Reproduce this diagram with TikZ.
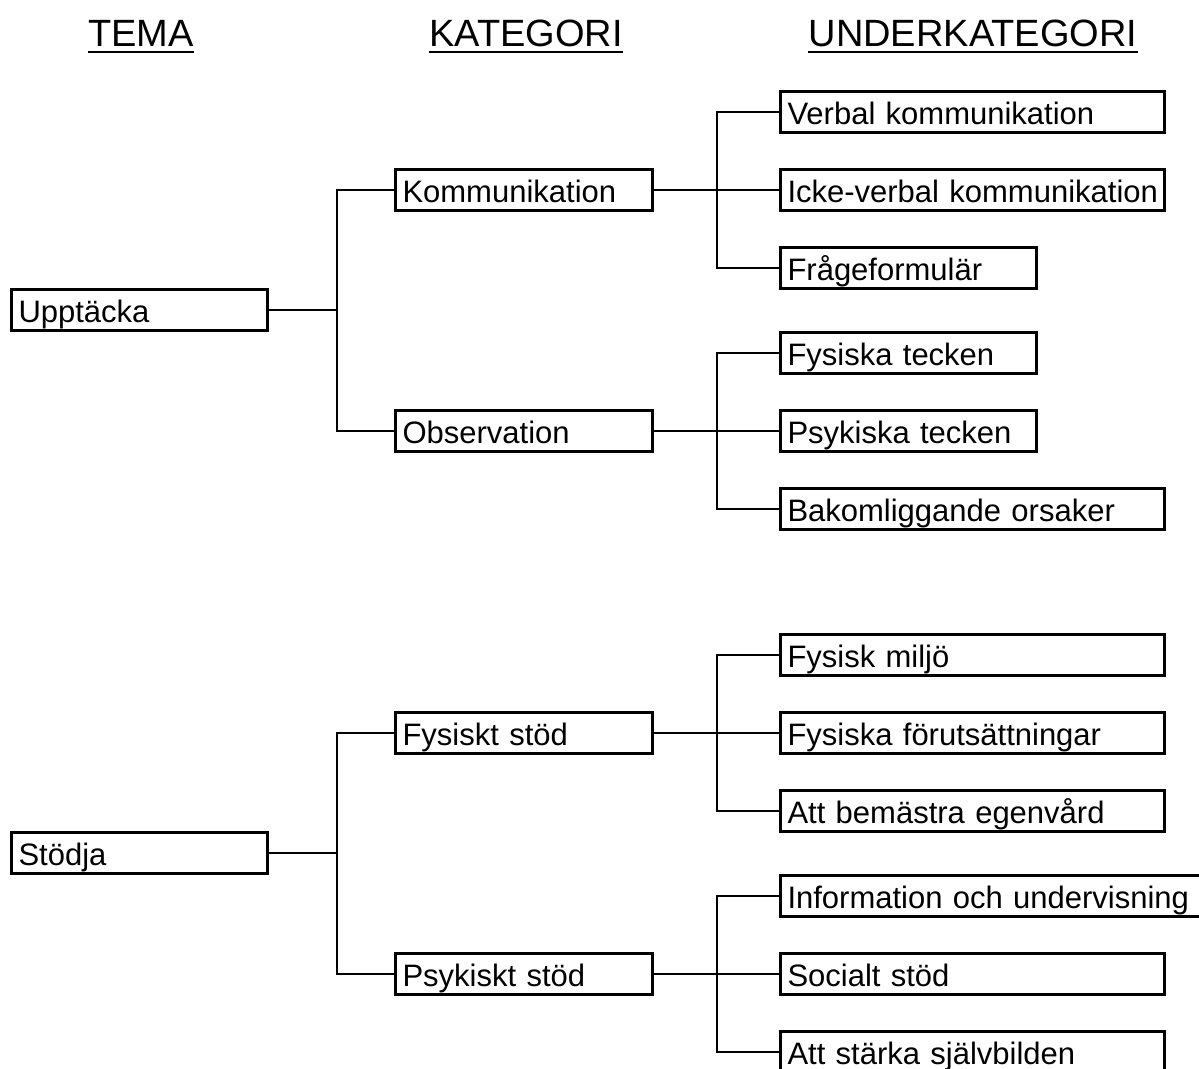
\documentclass[tikz,border=0pt]{standalone}
\usepackage{fontspec}
\setmainfont{Liberation Sans}
\usetikzlibrary{positioning}

\tikzset{
  box/.style={draw, line width=1.5pt, anchor=west, inner xsep=0pt, inner ysep=0pt,
    minimum height=20.5pt, text width=#1, align=left, text height=13pt, text depth=0.4pt,
    font=\fontsize{15.5}{18}\selectfont, execute at begin node={\hspace*{3.5pt}}},
  conn/.style={line width=0.8pt},
  head/.style={anchor=base, inner sep=0pt, font=\fontsize{19}{22}\selectfont},
  uline/.style={line width=0.75pt},
}

\begin{document}
\begin{tikzpicture}[x=0.5pt, y=-0.5pt]
    \useasboundingbox (0,0) rectangle (1199,1069);
    \clip (0,0) rectangle (1199,1069);

    % rubriker
    \node[head] (tema) at (141,47) {TEMA};
    \node[head] (kat) at (526,47) {KATEGORI};
    \node[head] (under) at (973,47) {UNDERKATEGORI};
    \draw[uline] ([yshift=-2.5pt]tema.base west) -- ([yshift=-2.5pt]tema.base east);
    \draw[uline] ([yshift=-2.5pt]kat.base west) -- ([yshift=-2.5pt]kat.base east);
    \draw[uline] ([yshift=-2.5pt]under.base west) -- ([yshift=-2.5pt]under.base east);

    % tema
    \node[box=128pt] (upp) at (10,310) {Upptäcka};
    \node[box=128pt] (sto) at (10,853) {Stödja};

    % kategori
    \node[box=128.5pt] (kom) at (394,190) {Kommunikation};
    \node[box=128.5pt] (obs) at (394,431) {Observation};
    \node[box=128.5pt] (fys) at (394,733) {Fysiskt stöd};
    \node[box=128.5pt] (psy) at (394,974) {Psykiskt stöd};

    % underkategori
    \node[box=192pt] (verb) at (779,112) {Verbal kommunikation};
    \node[box=192pt] (icke) at (779,190) {Icke-verbal kommunikation};
    \node[box=128pt] (frag) at (779,268) {Frågeformulär};
    \node[box=128pt] (ftec) at (779,353) {Fysiska tecken};
    \node[box=128pt] (ptec) at (779,431) {Psykiska tecken};
    \node[box=192pt] (bako) at (779,509) {Bakomliggande orsaker};
    \node[box=192pt] (milj) at (779,655) {Fysisk miljö};
    \node[box=192pt] (foru) at (779,733) {Fysiska förutsättningar};
    \node[box=192pt] (bema) at (779,811) {Att bemästra egenvård};
    \node[box=215pt] (info) at (779,896) {Information och undervisning};
    \node[box=192pt] (soci) at (779,974) {Socialt stöd};
    \node[box=192pt] (sjal) at (779,1052) {Att stärka självbilden};

    % förgreningar
    \coordinate (j1) at (337,310);
    \coordinate (j2) at (337,853);
    \coordinate (k1) at (717,190);
    \coordinate (k2) at (717,431);
    \coordinate (k3) at (717,733);
    \coordinate (k4) at (717,974);

    \draw[conn] (upp.east) -- (j1);
    \draw[conn] (j1) |- (kom.west);
    \draw[conn] (j1) |- (obs.west);
    \draw[conn] (sto.east) -- (j2);
    \draw[conn] (j2) |- (fys.west);
    \draw[conn] (j2) |- (psy.west);

    \draw[conn] (kom.east) -- (k1);
    \draw[conn] (k1) |- (verb.west);
    \draw[conn] (k1) -- (icke.west);
    \draw[conn] (k1) |- (frag.west);
    \draw[conn] (obs.east) -- (k2);
    \draw[conn] (k2) |- (ftec.west);
    \draw[conn] (k2) -- (ptec.west);
    \draw[conn] (k2) |- (bako.west);
    \draw[conn] (fys.east) -- (k3);
    \draw[conn] (k3) |- (milj.west);
    \draw[conn] (k3) -- (foru.west);
    \draw[conn] (k3) |- (bema.west);
    \draw[conn] (psy.east) -- (k4);
    \draw[conn] (k4) |- (info.west);
    \draw[conn] (k4) -- (soci.west);
    \draw[conn] (k4) |- (sjal.west);
\end{tikzpicture}
\end{document}
